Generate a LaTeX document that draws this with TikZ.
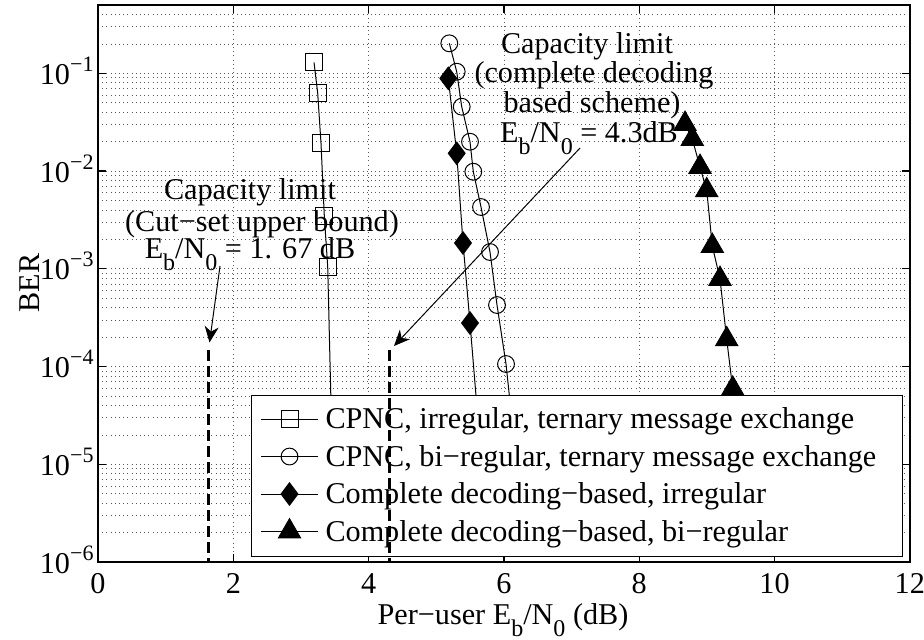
\documentclass[tikz,border=0pt]{standalone}
\usepackage{fontspec}
\setmainfont{Liberation Serif}
\usetikzlibrary{arrows.meta,plotmarks}
\newcommand{\lsub}[1]{\raisebox{-6pt}{\fontsize{12}{12}\selectfont #1}}
\newcommand{\ebno}{E\lsub{b}/N\lsub{0}}
\newcommand{\tpow}[1]{10\raisebox{6.5pt}{\fontsize{11}{11}\selectfont −#1}}
\begin{document}
\begin{tikzpicture}[x=0.5pt,y=-0.5pt,
  font=\fontsize{15.1}{17}\selectfont,
  every node/.style={inner sep=0pt, outer sep=0pt},
  gridline/.style={black!65, line width=0.35pt, dash pattern=on 0.5pt off 1.6pt},
  axisline/.style={black, line width=0.6pt},
  curve/.style={black, line width=0.5pt},
  capline/.style={black, line width=1.7pt, dash pattern=on 5.5pt off 2.5pt},
  callout/.style={black, line width=0.5pt, -{Stealth[length=8pt,width=7pt,inset=2.5pt]}},
  legendbox/.style={draw=black, fill=white, line width=0.5pt, minimum width=325.5pt, minimum height=80.5pt},
]
\fill[white] (0,0) rectangle (924,639);
\useasboundingbox (0,0) rectangle (924,639);

% grid
\foreach \v in {2,4,...,10} {
  \pgfmathsetmacro\xx{98+67.65*\v}
  \draw[gridline] (\xx,5) -- (\xx,562);
}
\foreach \k in {0,...,5} {
  \foreach \m in {1,...,9} {
    \pgfmathsetmacro\yy{562-97.74*(\k+log10(\m))}
    \pgfmathtruncatemacro\ok{(\yy>6)&&(\yy<561)}
    \ifnum\ok=1 \draw[gridline] (98,\yy) -- (910,\yy); \fi
  }
}

% ticks and tick labels
\foreach \v in {0,2,...,12} {
  \pgfmathsetmacro\xx{98+67.65*\v}
  \draw[axisline] (\xx,562) -- (\xx,554);
  \draw[axisline] (\xx,5) -- (\xx,13);
  \node[anchor=base] (xt\v) at (\xx,593) {\v};
}
\foreach \k in {1,...,6} {
  \pgfmathsetmacro\yy{562-97.74*(6-\k)}
  \draw[axisline] (98,\yy) -- (106,\yy);
  \draw[axisline] (910,\yy) -- (902,\yy);
  \node[anchor=base east] (yt\k) at (93.5,\yy+11) {\tpow{\k}};
}

% curves
\draw[curve, mark=square, mark size=4.25pt, mark options={solid}] plot coordinates
  {(314,62.3) (317.7,93.3) (321,143.3) (324.3,216) (327.7,266.7) (332,445)};
\draw[curve, mark=o, mark size=4.2pt, mark options={solid}] plot coordinates
  {(449.3,43.3) (456.7,71.7) (461.7,106.7) (470,141.7) (473.3,171.7) (481,207) (490,252) (497,305) (506,364) (513,430)};
\draw[curve, mark=diamond*, mark size=5.6pt, mark options={solid}] plot coordinates
  {(448.3,78.3) (456.7,153.3) (463,243) (470,323) (478,420)};
\draw[curve, mark=triangle*, mark size=6.4pt, mark options={solid}] plot coordinates
  {(685,124) (692.3,139) (700,167) (706.7,190.3) (712.3,246) (720,279) (726.7,339.3) (732.7,388.7) (740,440)};

% axes box
\draw[axisline] (98,5) rectangle (910,562);

% legend
\node[legendbox] (legend) at (576.5,475.5) {};
\draw[curve, mark=square, mark size=4.25pt, mark indices={2}] plot coordinates {(261,419) (289.5,419) (318,419)};
\node[anchor=base west] (lg1) at (325.5,428.5) {CPNC, irregular, ternary message exchange};
\draw[curve, mark=o, mark size=4.2pt, mark indices={2}] plot coordinates {(261,456.5) (289.5,456.5) (318,456.5)};
\node[anchor=base west] (lg2) at (325.5,466) {CPNC, bi−regular, ternary message exchange};
\draw[curve, mark=diamond*, mark size=5.6pt, mark indices={2}] plot coordinates {(261,494) (289.5,494) (318,494)};
\node[anchor=base west] (lg3) at (325.5,503.5) {Complete decoding−based, irregular};
\draw[curve, mark=triangle*, mark size=6.4pt, mark indices={2}] plot coordinates {(261,531.5) (289.5,531.5) (318,531.5)};
\node[anchor=base west] (lg4) at (325.5,541) {Complete decoding−based, bi−regular};

% capacity limit lines
\coordinate (d1t) at (208.7,350);
\coordinate (d1b) at (208.7,562);
\coordinate (d2t) at (389.3,350);
\coordinate (d2b) at (389.3,562);
\draw[capline] (d1t) -- (d1b);
\draw[capline] (d2t) -- (d2b);

% annotations
\node[anchor=base] (c1a) at (250,199) {Capacity limit};
\node[anchor=base] (c1b) at (262,231) {(Cut−set upper bound)};
\node[anchor=base] (c1c) at (250,258) {\ebno{} = 1. 67 dB};
\node[anchor=base] (c2a) at (587,53) {Capacity limit};
\node[anchor=base] (c2b) at (594,82) {(complete decoding};
\node[anchor=base] (c2c) at (592,112) {based scheme)};
\node[anchor=base] (c2d) at (589,142) {\ebno{} = 4.3dB};

\coordinate (a1s) at (220,266);
\coordinate (a1e) at (209.5,342.5);
\coordinate (a2s) at (580,148);
\coordinate (a2e) at (394,346);
\draw[callout] (a1s) -- (a1e);
\draw[callout] (a2s) -- (a2e);

% axis labels
\node[anchor=base] (xlab) at (503,624) {Per−user \ebno{} (dB)};
\node[rotate=90] (ylab) at (30,283) {BER};
\end{tikzpicture}
\end{document}
